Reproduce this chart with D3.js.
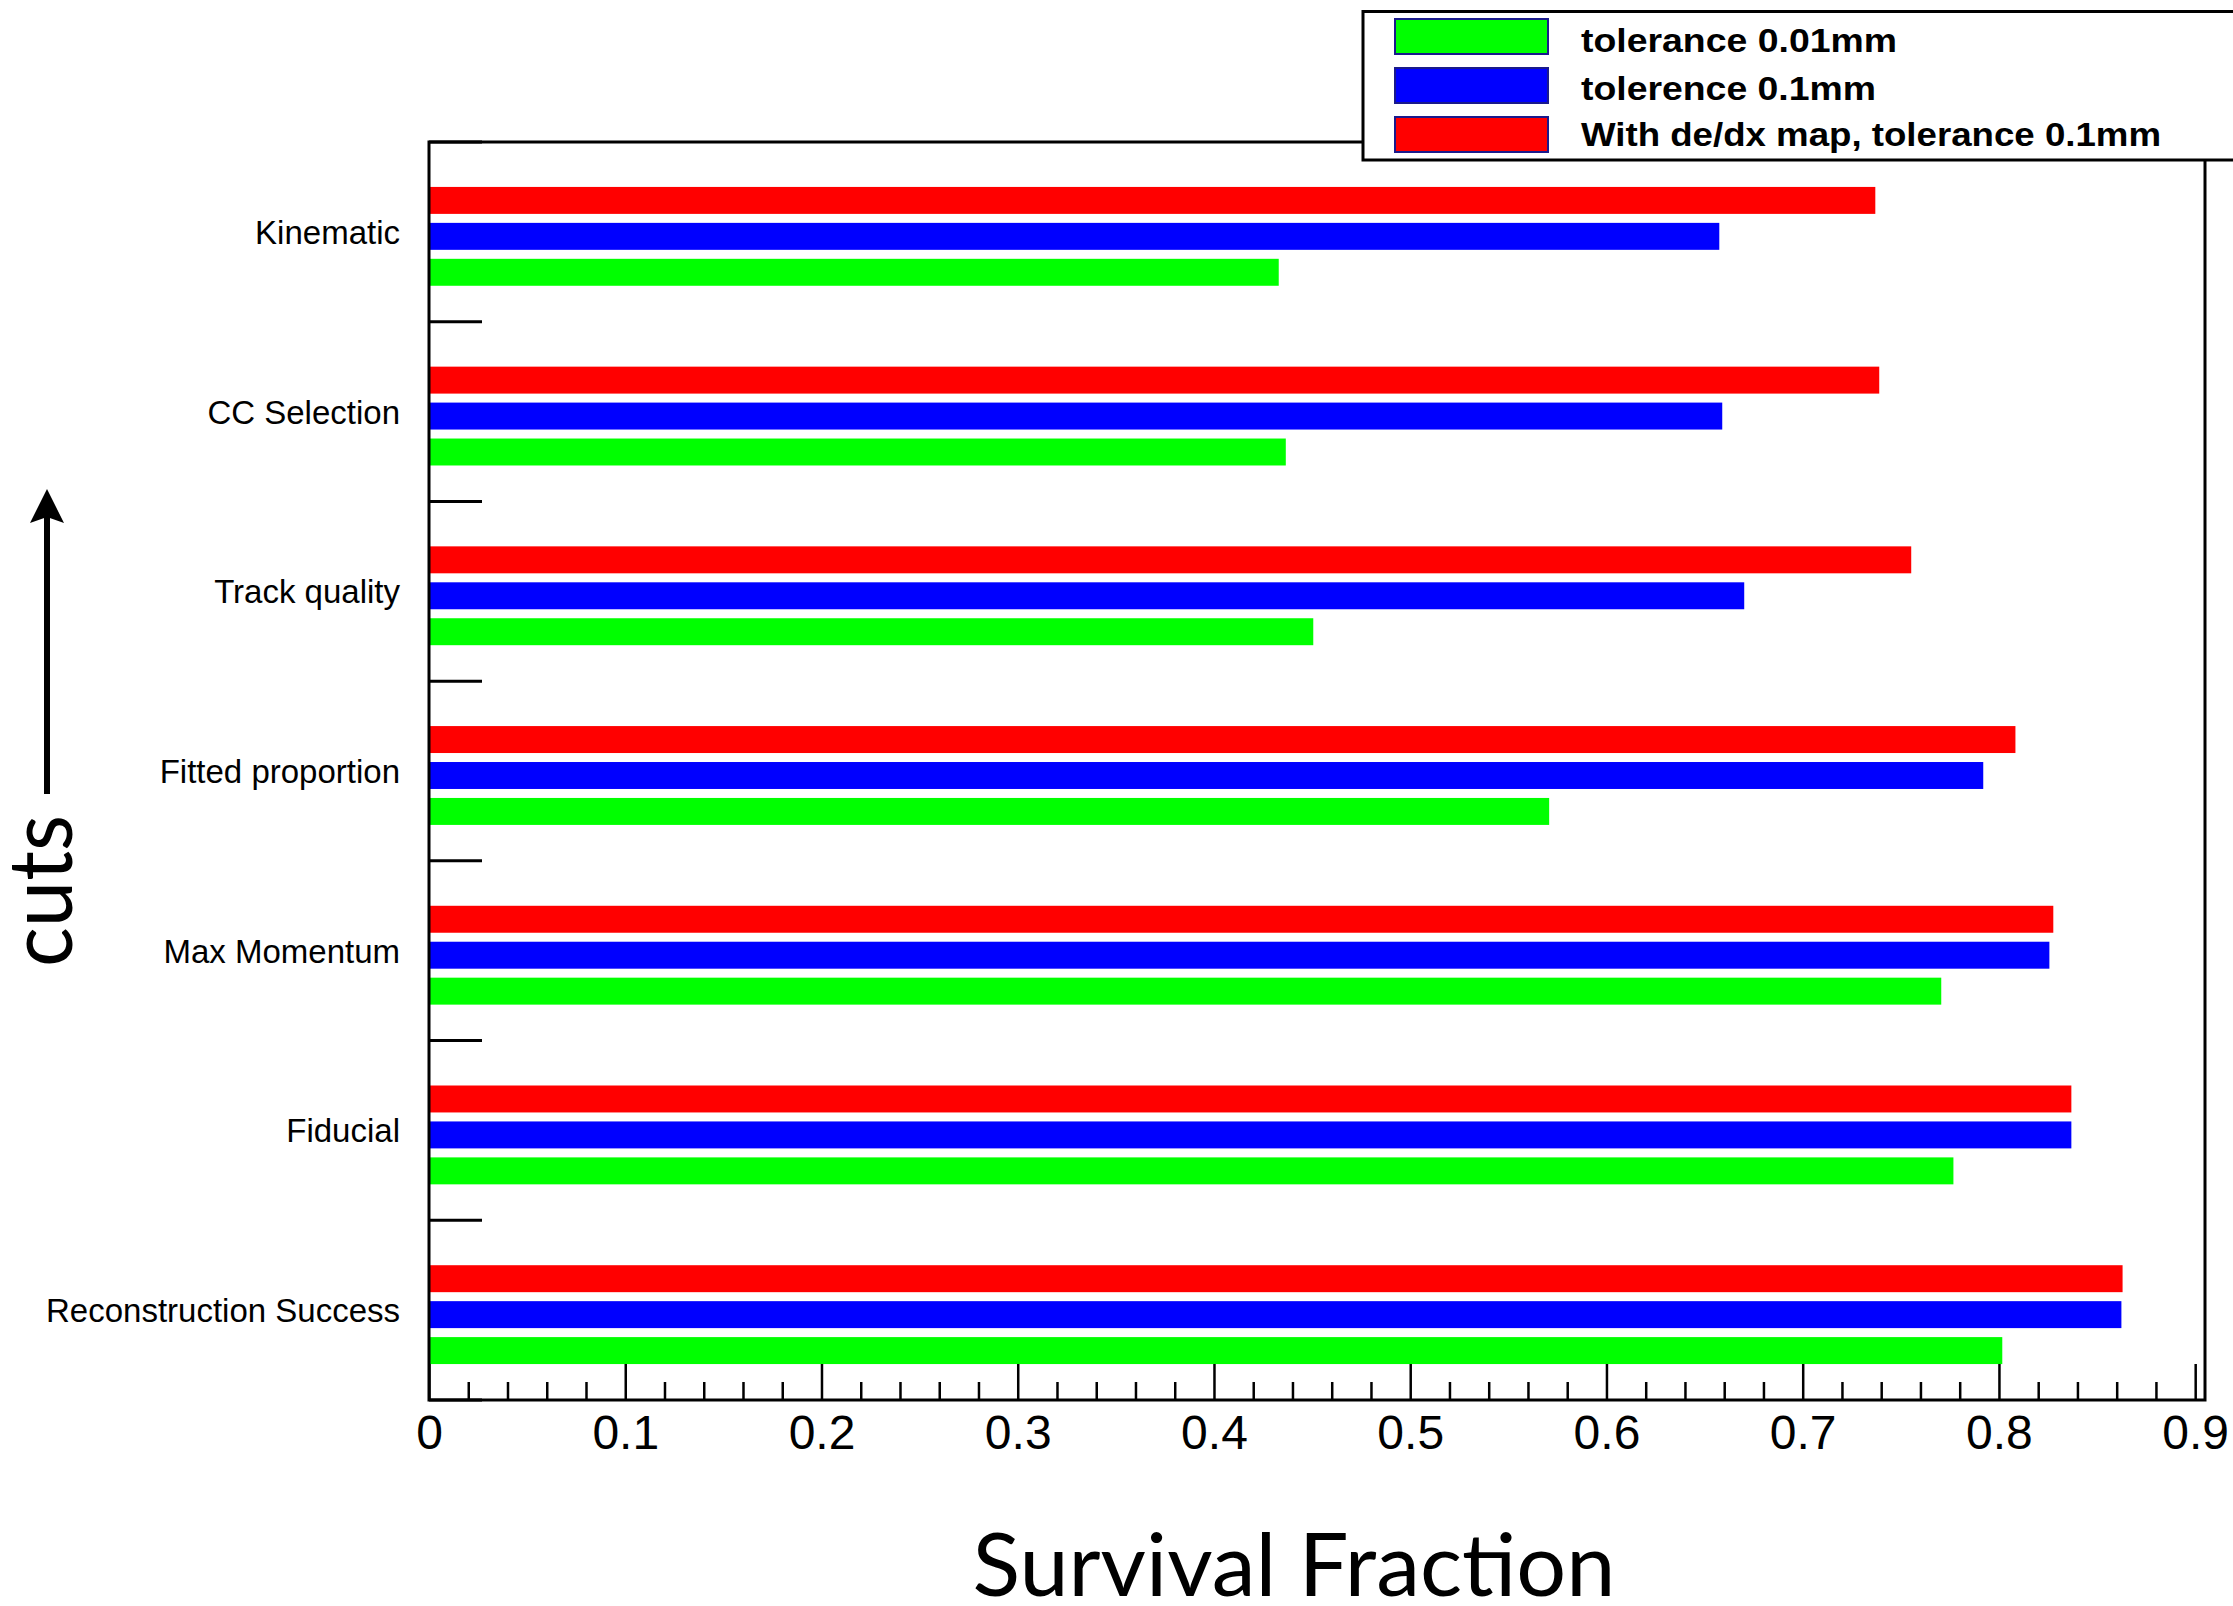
<!DOCTYPE html>
<html>
<head>
<meta charset="utf-8">
<script src="https://cdn.jsdelivr.net/npm/d3@7/dist/d3.min.js"></script>
<style>
  html, body { margin: 0; padding: 0; background: #fff; }
  svg { display: block; }
</style>
</head>
<body>
<script>
// Cut names, listed top to bottom
const categories = [
  "Kinematic",
  "CC Selection",
  "Track quality",
  "Fitted proportion",
  "Max Momentum",
  "Fiducial",
  "Reconstruction Success"
];

// Survival fraction per cut for each reconstruction setting
const tol001 = [0.4330, 0.4366, 0.4506, 0.5708, 0.7706, 0.7768, 0.8017];
const tol01 = [0.6575, 0.6590, 0.6702, 0.7920, 0.8257, 0.8369, 0.8624];
const dedxTol01 = [0.7370, 0.7390, 0.7553, 0.8084, 0.8277, 0.8369, 0.8630];

const seriesNames = ["tolerance 0.01mm", "tolerence 0.1mm", "With de/dx map, tolerance 0.1mm"];
const seriesColors = ["#00ff00", "#0000ff", "#ff0000"];

const majorTicks = [0, 0.1, 0.2, 0.3, 0.4, 0.5, 0.6, 0.7, 0.8, 0.9];
const xMax = 0.905;

const W = 2233, H = 1606;
const svg = d3.select("body").append("svg").attr("width", W).attr("height", H);

const plot = { left: 429, right: 2205, top: 142, bottom: 1400 };

const x = d3.scaleLinear().domain([0, xMax]).range([plot.left, plot.right]);
const y = d3.scaleBand().domain(categories).range([plot.top, plot.bottom]).padding(0);

// Bars: within each cut band the order is de/dx (top), 0.1mm, 0.01mm (bottom)
const series = [
  { values: dedxTol01, color: seriesColors[2], offset: 0.25 },
  { values: tol01, color: seriesColors[1], offset: 0.45 },
  { values: tol001, color: seriesColors[0], offset: 0.65 }
];
const barFrac = 0.15;

const barG = svg.append("g");
series.forEach(s => {
  barG.selectAll(null)
    .data(categories.map((c, i) => ({ c, v: s.values[i] })))
    .join("rect")
    .attr("x", x(0))
    .attr("y", d => y(d.c) + s.offset * y.bandwidth())
    .attr("width", d => x(d.v) - x(0))
    .attr("height", barFrac * y.bandwidth())
    .attr("fill", s.color);
});

// Minor ticks along the survival-fraction axis
const minorTicks = [];
for (let i = 0; i < 9; i++) {
  for (let k = 1; k < 5; k++) minorTicks.push(+(majorTicks[i] + k * 0.02).toFixed(3));
}
const minorAxis = d3.axisBottom(x).tickValues(minorTicks).tickSize(-18).tickFormat("");
const gMinor = svg.append("g").attr("transform", `translate(0,${plot.bottom})`).call(minorAxis);
gMinor.select(".domain").remove();
gMinor.selectAll(".tick line").attr("stroke", "#000").attr("stroke-width", 2.5);

const majorAxis = d3.axisBottom(x).tickValues(majorTicks).tickSize(-36).tickPadding(15)
  .tickFormat(d => d === 0 ? "0" : d3.format(".1f")(d));
const gMajor = svg.append("g").attr("transform", `translate(0,${plot.bottom})`).call(majorAxis);
gMajor.select(".domain").remove();
gMajor.selectAll(".tick line").attr("stroke", "#000").attr("stroke-width", 2.5);
gMajor.selectAll(".tick text")
  .attr("font-family", "'Liberation Sans', Arial, Helvetica, sans-serif")
  .attr("font-size", 48)
  .attr("fill", "#000");

// Ticks at the cut-band boundaries
const bounds = categories.map(c => y(c)).concat([plot.bottom]);
svg.append("g").selectAll("line")
  .data(bounds)
  .join("line")
  .attr("x1", plot.left).attr("x2", plot.left + 53)
  .attr("y1", d => d).attr("y2", d => d)
  .attr("stroke", "#000").attr("stroke-width", 3);

// Cut labels
svg.append("g").selectAll("text")
  .data(categories)
  .join("text")
  .attr("x", 400)
  .attr("y", d => y(d) + y.bandwidth() / 2 + 12)
  .attr("text-anchor", "end")
  .attr("font-family", "'Liberation Sans', Arial, Helvetica, sans-serif")
  .attr("font-size", 33)
  .attr("fill", "#000")
  .text(d => d);

// Frame
svg.append("rect")
  .attr("x", plot.left).attr("y", plot.top)
  .attr("width", plot.right - plot.left).attr("height", plot.bottom - plot.top)
  .attr("fill", "none").attr("stroke", "#000").attr("stroke-width", 3);

// Axis title
svg.append("text")
  .attr("x", 1294).attr("y", 1596)
  .attr("text-anchor", "middle")
  .attr("font-family", "Lato, 'Open Sans', sans-serif")
  .attr("font-size", 88)
  .attr("textLength", 643).attr("lengthAdjust", "spacingAndGlyphs")
  .attr("fill", "#000")
  .text("Survival Fraction");

// "cuts" with an upward arrow
svg.append("text")
  .attr("transform", "translate(72,891) rotate(-90)")
  .attr("text-anchor", "middle")
  .attr("font-family", "Lato, 'Open Sans', sans-serif")
  .attr("font-size", 90)
  .attr("textLength", 152).attr("lengthAdjust", "spacingAndGlyphs")
  .attr("fill", "#000")
  .text("cuts");
svg.append("line")
  .attr("x1", 47).attr("x2", 47).attr("y1", 794).attr("y2", 515)
  .attr("stroke", "#000").attr("stroke-width", 6);
svg.append("path")
  .attr("d", "M47,489 L30,523 L47,517 L64,523 Z")
  .attr("fill", "#000");

// Legend
const leg = svg.append("g");
leg.append("rect")
  .attr("x", 1363).attr("y", 11.5).attr("width", 900).attr("height", 148.5)
  .attr("fill", "#fff").attr("stroke", "#000").attr("stroke-width", 3);
const legItems = [
  { name: seriesNames[0], color: seriesColors[0], top: 19, base: 52, len: 316 },
  { name: seriesNames[1], color: seriesColors[1], top: 68, base: 100, len: 295 },
  { name: seriesNames[2], color: seriesColors[2], top: 117, base: 146, len: 580 }
];
legItems.forEach(it => {
  leg.append("rect")
    .attr("x", 1395).attr("y", it.top).attr("width", 153).attr("height", 35)
    .attr("fill", it.color).attr("stroke", "#1a1a8c").attr("stroke-width", 2);
  leg.append("text")
    .attr("x", 1581).attr("y", it.base)
    .attr("font-family", "'Liberation Sans', Arial, Helvetica, sans-serif")
    .attr("font-weight", "bold")
    .attr("font-size", 34)
    .attr("textLength", it.len).attr("lengthAdjust", "spacingAndGlyphs")
    .attr("fill", "#000")
    .text(it.name);
});
</script>
</body>
</html>
